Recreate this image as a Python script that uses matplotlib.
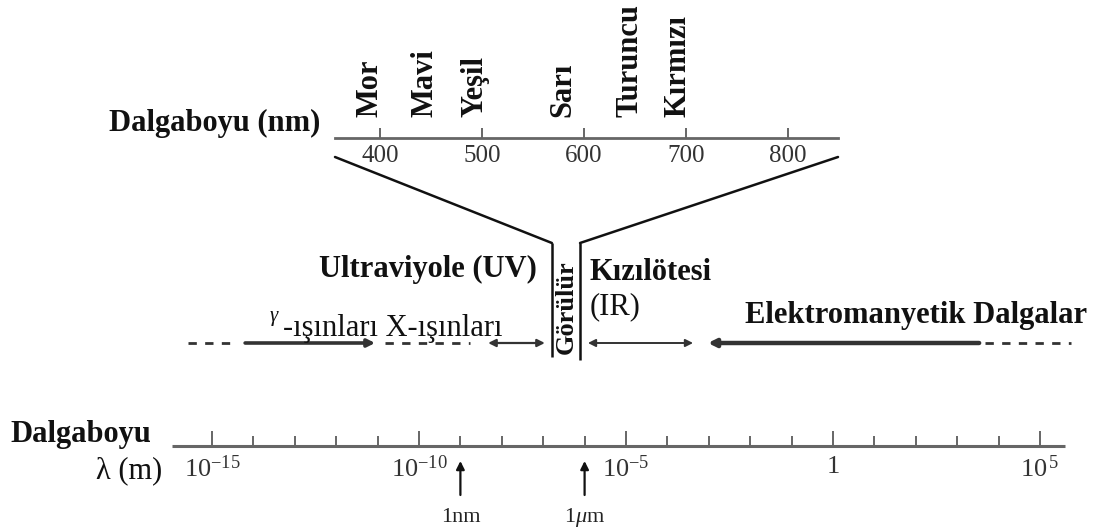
import numpy as np
import matplotlib.pyplot as plt
from matplotlib.patches import ConnectionPatch
from matplotlib.ticker import NullFormatter
from matplotlib.transforms import offset_copy

plt.rcParams['font.family'] = ['Liberation Serif', 'DejaVu Serif']
plt.rcParams['mathtext.fontset'] = 'custom'
plt.rcParams['mathtext.rm'] = 'Liberation Serif'
plt.rcParams['mathtext.it'] = 'Liberation Serif:italic'

# top scale: visible light in nm
nm_range = [356, 849]
nm_ticks = [400, 500, 600, 700, 800]
colour_names = ['Mor', 'Mavi', 'Yeşil', 'Sarı', 'Turuncu', 'Kırmızı']
colour_nm = [390, 444, 493, 579, 645, 692]

# bottom scale: log10 of wavelength in metres
log_range = [-15.97, 5.6]
major_exp = [-15, -10, -5, 0, 5]
major_labels = [r'$10^{-15}$', r'$10^{-10}$', r'$10^{-5}$', '1', r'$10^{\,5}$']
marker_exp = [-9, -6]
marker_labels = ['1nm', r'1$\mu$m']

# middle row, log10 m
visible_band = [-6.79, -6.11]
arrow_from = [-14.2, -8.33, -5.92, 3.53]
arrow_to = [-11.06, -6.96, -3.38, -3.02]
arrow_both = [False, True, True, False]
dash_from = [-15.58, -10.82, 3.67]
dash_to = [-14.57, -8.77, 5.75]

W, H = 1100, 530
fig = plt.figure(figsize=(11, 5.3), dpi=100)


def fx(px):
    return px / W


def fy(py):
    return 1 - py / H


ink = '#111111'
grey = '#5a5a5a'

# ---- main log axis (y data = pixels from top) ----
axis_y = 446
dec = 41.4
x_one = 833
ax = fig.add_axes([0, fy(axis_y), 1, axis_y / H])
ax.set_xscale('log')
ax.set_xlim(10 ** (-x_one / dec), 10 ** ((W - x_one) / dec))
ax.set_ylim(axis_y, 0)
for s in ax.spines.values():
    s.set_visible(False)
ax.set_yticks([])
ax.set_xticks(10.0 ** np.array(major_exp))
ax.set_xticklabels(major_labels)
minor = [e for e in range(major_exp[0], major_exp[-1] + 1) if e not in major_exp]
ax.set_xticks(10.0 ** np.array(minor), minor=True)
ax.xaxis.set_minor_formatter(NullFormatter())
ax.tick_params(axis='x', which='major', direction='in', length=11, width=1.3,
               color=grey, labelsize=19, pad=7, labelcolor='#333333')
ax.tick_params(axis='x', which='minor', direction='in', length=7, width=1.3, color=grey)
ax.plot(10.0 ** np.array(log_range), [axis_y, axis_y], color='#666666', lw=2.2,
        clip_on=False, solid_capstyle='butt')

for e, lab in zip(marker_exp, marker_labels):
    ax.annotate('', xy=(10.0 ** e, 461), xytext=(10.0 ** e, 495),
                arrowprops=dict(arrowstyle='-|>', lw=1.6, color=ink,
                                mutation_scale=12, shrinkA=0, shrinkB=0),
                annotation_clip=False)
    ax.text(10.0 ** e, 522, lab, ha='center', va='baseline', fontsize=16,
            color='#222222', clip_on=False)

# middle row
row_y = 343
for a, b in zip(dash_from, dash_to):
    ax.plot([10.0 ** a, 10.0 ** b], [row_y, row_y], ls=(0, (3, 3)), color='#333333', lw=2)
arrow_lw = [2.6, 1.6, 1.4, 3.2]
for a, b, both, lw in zip(arrow_from, arrow_to, arrow_both, arrow_lw):
    ax.annotate('', xy=(10.0 ** b, row_y), xytext=(10.0 ** a, row_y),
                arrowprops=dict(arrowstyle='<|-|>' if both else '-|>', lw=lw,
                                color='#333333', mutation_scale=11,
                                shrinkA=0, shrinkB=0))

ax.vlines(10.0 ** np.array(visible_band), 243, [357, 360], color=ink, lw=1.8)
ax.text(10.0 ** np.mean(visible_band), 307, 'Görülür', rotation=90, ha='center',
        va='center', fontsize=19, fontweight='bold', color=ink)

# ---- top nm axis ----
ax_nm = fig.add_axes([fx(335), fy(138), fx(838) - fx(335), 138 / H])
ax_nm.set_xlim(nm_range)
ax_nm.set_ylim(0, 1)
for k in ['top', 'left', 'right']:
    ax_nm.spines[k].set_visible(False)
ax_nm.spines['bottom'].set_color('#666666')
ax_nm.spines['bottom'].set_linewidth(2)
ax_nm.set_yticks([])
ax_nm.set_xticks(nm_ticks)
ax_nm.tick_params(axis='x', direction='in', length=7, width=1.3, color=grey,
                  labelsize=18, pad=5, labelcolor='#333333')
ax_nm.patch.set_visible(False)

for name, nm in zip(colour_names, colour_nm):
    ax_nm.annotate(name, xy=(nm, 0), xycoords=('data', 'axes fraction'),
                   xytext=(0, 15), textcoords='offset points', rotation=90,
                   ha='center', va='bottom', fontsize=22, fontweight='bold', color=ink)

# funnel from the nm scale to the visible band
below = offset_copy(ax_nm.get_xaxis_transform(), fig=fig, y=-19, units='dots')
for nm_end, band_end in zip(nm_range, visible_band):
    con = ConnectionPatch(xyA=(nm_end, 0), coordsA=below,
                          xyB=(10.0 ** band_end, 243), coordsB=ax.transData,
                          color=ink, lw=1.8)
    fig.add_artist(con)

# ---- labels ----
bold = dict(fontsize=22, fontweight='bold', color=ink, va='baseline')
fig.text(fx(320), fy(131), 'Dalgaboyu (nm)', ha='right', **bold)
fig.text(fx(537), fy(277), 'Ultraviyole (UV)', ha='right', **bold)
fig.text(fx(590), fy(280), 'Kızılötesi', ha='left', **bold)
fig.text(fx(590), fy(314), '(IR)', ha='left', fontsize=22, color=ink, va='baseline')
fig.text(fx(745), fy(323), 'Elektromanyetik Dalgalar', ha='left', **bold)
fig.text(fx(270), fy(321), 'γ', ha='left', fontsize=15, style='italic', color=ink, va='baseline')
fig.text(fx(283), fy(336), '-ışınları X-ışınları', ha='left', fontsize=22,
         color=ink, va='baseline')
fig.text(fx(10), fy(442), 'Dalgaboyu', ha='left', **bold)
fig.text(fx(162), fy(478), 'λ (m)', ha='right', fontsize=22, color=ink, va='baseline')

fig.savefig('out.png', dpi=100)
